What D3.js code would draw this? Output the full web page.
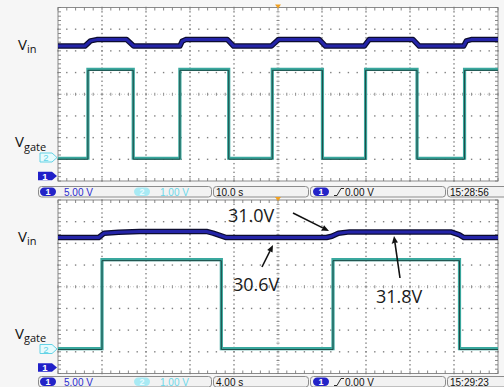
<!DOCTYPE html>
<html>
<head>
<meta charset="utf-8">
<script src="https://cdn.jsdelivr.net/npm/d3@7"></script>
<style>
  body { margin: 0; background: #f6f6f6; }
  svg { display: block; }
</style>
</head>
<body>
<div id="canvas"></div>
<script>
// ---- data read off the scope captures ----
// top capture: 10 s/div, ch1 (Vin) 5 V/div, ch2 (Vgate) 1 V/div
const topGateEdges = [-43.2, -32.9, -22.3, -11.2, -1.3, 10.1, 19.9, 31.6, 42.4];
const topVin = [[-50, 30.6], [-43.9, 30.6], [-42.6, 31.8], [-41.2, 32.1], [-34.4, 32.1], [-32.8, 30.6],
  [-22.3, 30.6], [-21.8, 31.7], [-21.0, 32.1], [-11.5, 32.1], [-10.1, 30.6],
  [-1.5, 30.6], [0.1, 32.1], [9.4, 32.1], [10.8, 30.6],
  [19.6, 30.6], [20.7, 32.1], [30.7, 32.1], [32.1, 30.6],
  [42.2, 30.6], [42.8, 31.8], [43.9, 32.1], [50, 32.1]];
// bottom capture: 4 s/div
const botGateEdges = [-16.0, -5.15, 5.0, 16.5];
const botVin = [[-20, 30.6], [-16.3, 30.6], [-15.8, 31.6], [-14.5, 31.8], [-12.6, 32.0], [-6.5, 32.0],
  [-5.9, 31.6], [-4.7, 30.6], [4.4, 30.6], [4.9, 30.9], [5.5, 31.6], [6.5, 31.9], [15.7, 31.9],
  [16.5, 31.2], [16.9, 30.6], [20, 30.6]];
const gateLevels = [0, 4.1];
const annotations = [
  { text: "31.0V", x: 228, y: 222, from: [293, 213], to: [329, 231] },
  { text: "30.6V", x: 233, y: 291, from: [262, 267], to: [273, 245] },
  { text: "31.8V", x: 376, y: 303, from: [400, 278], to: [394, 236] }
];
const statusTexts = [
  { ch1: "5.00 V", ch2: "1.00 V", time: "10.0 s", trig: "0.00 V", clock: "15:28:56" },
  { ch1: "5.00 V", ch2: "1.00 V", time: "4.00 s", trig: "0.00 V", clock: "15:29:23" }
];

const width = 504, height = 387;
const x0 = 58, x1 = 498;
const panels = [
  { y0: 7.5, y1: 181, secDiv: 10, gate: topGateEdges, vin: topVin, ch1Off: -3.9, ch2Off: -2.95,
    m1: 176, m2: 157.5, vinY: 50, gateY: 147, bar: 186 },
  { y0: 200, y1: 373.5, secDiv: 4, gate: botGateEdges, vin: botVin, ch1Off: -3.85, ch2Off: -2.85,
    m1: 367.5, m2: 349, vinY: 242, gateY: 338.5, bar: 376 }
];

const svg = d3.select("#canvas").append("svg")
  .attr("width", width).attr("height", height);
svg.append("rect").attr("width", width).attr("height", height).attr("fill", "#f6f6f6");

const blue = "#2424a8", teal = "#3aa89e", cyan = "#63d3e6";

panels.forEach((p, pi) => {
  const xd = d3.scaleLinear().domain([-5, 5]).range([x0, x1]);
  const xt = d3.scaleLinear().domain([-5 * p.secDiv, 5 * p.secDiv]).range([x0, x1]);
  const yd = d3.scaleLinear().domain([-4, 4]).range([p.y1, p.y0]);
  const g = svg.append("g");

  g.append("rect").attr("x", x0).attr("y", p.y0).attr("width", x1 - x0).attr("height", p.y1 - p.y0)
    .attr("fill", "#fff").attr("stroke", "#8a8a8a").attr("stroke-width", 1);

  // dotted graticule
  const dots = [];
  d3.range(-4, 5).forEach(i => {
    if (i === 0 || Math.abs(i) === 5) return;
    d3.range(-4, 4.01, 0.2).forEach(v => dots.push([xd(i), yd(v)]));
  });
  d3.range(-3, 4).forEach(j => {
    if (j === 0) return;
    d3.range(-5, 5.01, 0.2).forEach(u => dots.push([xd(u), yd(j)]));
  });
  g.selectAll("rect.dot").data(dots).enter().append("rect")
    .attr("class", "dot")
    .attr("x", d => d[0] - 0.7).attr("y", d => d[1] - 0.7)
    .attr("width", 1.4).attr("height", 1.4).attr("fill", "#808080");

  // centre axes and border ticks
  const ticks = [];
  d3.range(-5, 5.01, 0.2).forEach(u => {
    ticks.push([xd(u), yd(0) - 1.5, xd(u), yd(0) + 1.5]);
    ticks.push([xd(u), p.y0, xd(u), p.y0 + 3]);
    ticks.push([xd(u), p.y1, xd(u), p.y1 - 3]);
  });
  d3.range(-4, 4.01, 0.2).forEach(v => {
    ticks.push([xd(0) - 1.5, yd(v), xd(0) + 1.5, yd(v)]);
    ticks.push([x0, yd(v), x0 + 3, yd(v)]);
    ticks.push([x1, yd(v), x1 - 3, yd(v)]);
  });
  g.selectAll("line.tick").data(ticks).enter().append("line")
    .attr("x1", d => d[0]).attr("y1", d => d[1]).attr("x2", d => d[2]).attr("y2", d => d[3])
    .attr("stroke", "#7a7a7a").attr("stroke-width", 0.9);
  g.append("line").attr("x1", x0).attr("x2", x1).attr("y1", yd(0)).attr("y2", yd(0))
    .attr("stroke", "#a8a8a8").attr("stroke-width", 0.6).attr("stroke-dasharray", "1,2");
  g.append("line").attr("x1", xd(0)).attr("x2", xd(0)).attr("y1", p.y0).attr("y2", p.y1)
    .attr("stroke", "#a8a8a8").attr("stroke-width", 0.6).attr("stroke-dasharray", "1,2");

  // gate trace (ch2)
  const gpts = [[-5 * p.secDiv, gateLevels[0]]];
  p.gate.forEach((e, i) => {
    gpts.push([e, gateLevels[i % 2]]);
    gpts.push([e, gateLevels[(i + 1) % 2]]);
  });
  gpts.push([5 * p.secDiv, gateLevels[p.gate.length % 2]]);
  const gLine = d3.line().x(d => xt(d[0])).y(d => yd(p.ch2Off + d[1] / 1));
  g.append("path").attr("d", gLine(gpts)).attr("fill", "none")
    .attr("stroke", teal).attr("stroke-width", 3.2);
  g.append("path").attr("d", gLine(gpts)).attr("fill", "none")
    .attr("stroke", "#1f4a46").attr("stroke-width", 1).attr("transform", "translate(0,1)");

  // Vin trace (ch1)
  const vLine = d3.line().x(d => xt(d[0])).y(d => yd(p.ch1Off + d[1] / 5));
  g.append("path").attr("d", vLine(p.vin)).attr("fill", "none")
    .attr("stroke", "#0c0c30").attr("stroke-width", 5.5).attr("stroke-linejoin", "round");
  g.append("path").attr("d", vLine(p.vin)).attr("fill", "none")
    .attr("stroke", blue).attr("stroke-width", 3).attr("stroke-linejoin", "round");

  // trigger position marker
  g.append("path").attr("d", `M${xd(0) - 3},${p.y0 - 3}L${xd(0) + 3},${p.y0 - 3}L${xd(0)},${p.y0 + 1}Z`)
    .attr("fill", "#f0a020");

  // channel markers
  const m2 = g.append("g").attr("transform", `translate(40,${p.m2})`);
  m2.append("path").attr("d", "M0,-4.5L12,-4.5L17,0L12,4.5L0,4.5Z")
    .attr("fill", "#e6fbfd").attr("stroke", cyan).attr("stroke-width", 1);
  m2.append("text").attr("x", 6).attr("y", 3.5).attr("text-anchor", "middle")
    .attr("font-family", "Liberation Sans").attr("font-size", 9.5).attr("fill", cyan).text("2");
  const m1 = g.append("g").attr("transform", `translate(38,${p.m1})`);
  m1.append("path").attr("d", "M0,-4.2L14,-4.2L19,0L14,4.2L0,4.2Z").attr("fill", "#2020c8");
  m1.append("text").attr("x", 7).attr("y", 3.5).attr("text-anchor", "middle")
    .attr("font-family", "Liberation Sans").attr("font-size", 9.5).attr("font-weight", "bold")
    .attr("fill", "#fff").text("1");

  // signal names
  const lv = g.append("text").attr("x", 18).attr("y", p.vinY)
    .attr("font-family", "Open Sans").attr("font-size", 15).attr("fill", "#111");
  lv.append("tspan").text("V");
  lv.append("tspan").attr("font-size", 11).attr("dy", 3).text("in");
  const lg = g.append("text").attr("x", 15).attr("y", p.gateY)
    .attr("font-family", "Open Sans").attr("font-size", 15).attr("fill", "#111");
  lg.append("tspan").text("V");
  lg.append("tspan").attr("font-size", 11).attr("dy", 3.5).text("gate");

  // status bar
  const st = statusTexts[pi];
  const bar = svg.append("g").attr("transform", `translate(0,${p.bar})`)
    .attr("font-family", "Liberation Sans").attr("font-size", 10);
  [[38, 212], [213, 309], [310, 446], [447, 510]].forEach(b => {
    bar.append("rect").attr("x", b[0] + 0.5).attr("y", 0.5).attr("width", b[1] - b[0] - 1).attr("height", 10.5)
      .attr("rx", 3).attr("fill", "#f2f2f2").attr("stroke", "#8c8c8c").attr("stroke-width", 1);
  });
  const pill = (x, fill, txt, tc) => {
    bar.append("rect").attr("x", x).attr("y", 1.5).attr("width", 16).attr("height", 8.5).attr("rx", 4.2)
      .attr("fill", fill);
    bar.append("text").attr("x", x + 8).attr("y", 9).attr("text-anchor", "middle").attr("font-size", 9)
      .attr("font-weight", "bold").attr("fill", tc).text(txt);
  };
  pill(40, "#2323c8", "1", "#fff");
  pill(134, "#a8eaf4", "2", "#e8fbff");
  pill(313, "#2323c8", "1", "#fff");
  bar.append("text").attr("x", 64).attr("y", 9.5).attr("fill", "#2a2ad0").text(st.ch1);
  bar.append("text").attr("x", 160).attr("y", 9.5).attr("fill", "#6cd8ea").text(st.ch2);
  bar.append("text").attr("x", 216).attr("y", 9.5).attr("fill", "#111").text(st.time);
  bar.append("path").attr("d", "M334,9.5L337,9.5L341,2.5L344,2.5").attr("fill", "none")
    .attr("stroke", "#111").attr("stroke-width", 0.9);
  bar.append("text").attr("x", 345).attr("y", 9.5).attr("fill", "#111").text(st.trig);
  bar.append("text").attr("x", 450).attr("y", 9.5).attr("fill", "#111").text(st.clock);
});

// annotations on the bottom capture
const ann = svg.append("g");
ann.selectAll("text").data(annotations).enter().append("text")
  .attr("x", d => d.x).attr("y", d => d.y)
  .attr("font-family", "Open Sans").attr("font-size", 18).attr("fill", "#1a1a1a")
  .text(d => d.text);
annotations.forEach(d => {
  const [ax, ay] = d.from, [bx, by] = d.to;
  const ang = Math.atan2(by - ay, bx - ax);
  const L = 7, W = 3;
  const hx = bx - L * Math.cos(ang), hy = by - L * Math.sin(ang);
  ann.append("line").attr("x1", ax).attr("y1", ay).attr("x2", hx).attr("y2", hy)
    .attr("stroke", "#111").attr("stroke-width", 1.6);
  ann.append("path").attr("d",
    `M${bx},${by}L${hx - W * Math.sin(ang)},${hy + W * Math.cos(ang)}L${hx + W * Math.sin(ang)},${hy - W * Math.cos(ang)}Z`)
    .attr("fill", "#111");
});
</script>
</body>
</html>
